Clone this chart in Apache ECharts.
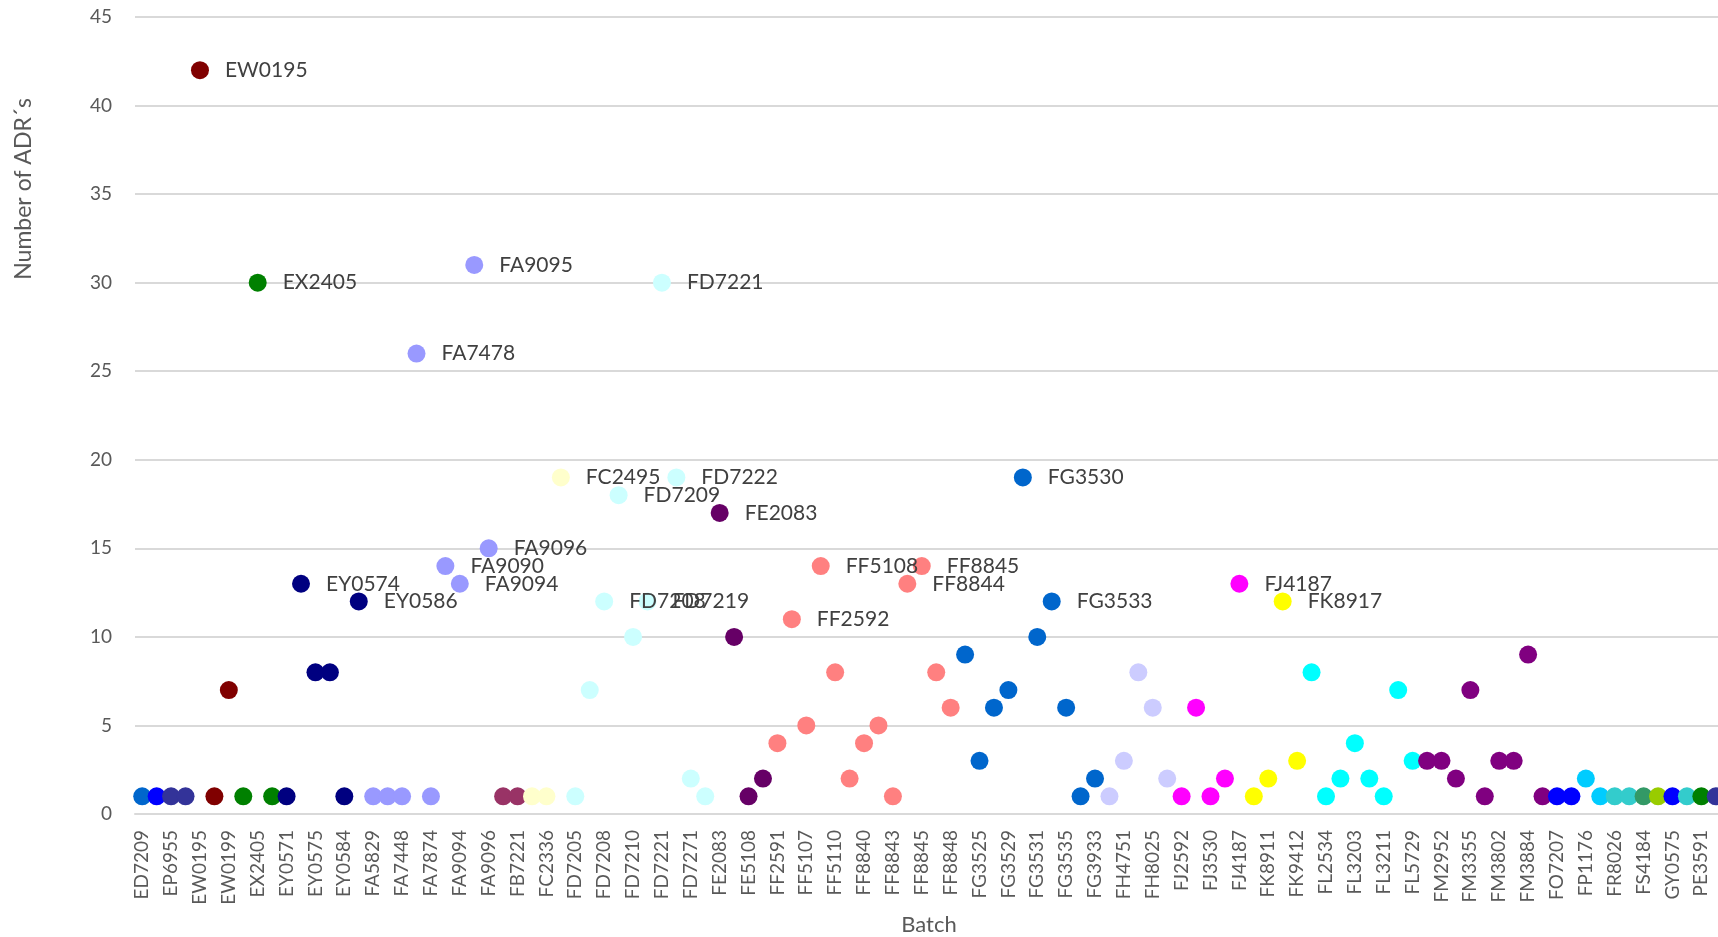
<!DOCTYPE html>
<html>
<head>
<meta charset="utf-8">
<title>ADRs per batch</title>
<script src="https://cdn.jsdelivr.net/npm/echarts@6/dist/echarts.min.js"></script>
<style>
  html, body { margin: 0; padding: 0; background: #fff; }
  #adrChart { width: 1718px; height: 937px; }
</style>
</head>
<body>
<div id="adrChart"></div>
<script>
// batches in axis order (every other one is labelled on the axis)
var batches = [
  'ED7209', 'EN2148', 'EP6955', 'ER1386', 'EW0195', 'EW0196', 'EW0199', 'EX0861', 'EX2405', 'EX3302',
  'EY0571', 'EY0574', 'EY0575', 'EY0580', 'EY0584', 'EY0586', 'FA5829', 'FA6038', 'FA7448', 'FA7478',
  'FA7874', 'FA9090', 'FA9094', 'FA9095', 'FA9096', 'FB6204', 'FB7221', 'FC2335', 'FC2336', 'FC2495',
  'FD7205', 'FD7207', 'FD7208', 'FD7209', 'FD7210', 'FD7219', 'FD7221', 'FD7222', 'FD7271', 'FD7272',
  'FE2083', 'FE2084', 'FE5108', 'FE5109', 'FF2591', 'FF2592', 'FF5107', 'FF5108', 'FF5110', 'FF5111',
  'FF8840', 'FF8841', 'FF8843', 'FF8844', 'FF8845', 'FF8846', 'FF8848', 'FG3524', 'FG3525', 'FG3527',
  'FG3529', 'FG3530', 'FG3531', 'FG3533', 'FG3535', 'FG3536', 'FG3933', 'FH4750', 'FH4751', 'FH8024',
  'FH8025', 'FH8026', 'FJ2592', 'FJ2593', 'FJ3530', 'FJ3531', 'FJ4187', 'FK8910', 'FK8911', 'FK8917',
  'FK9412', 'FL2533', 'FL2534', 'FL2535', 'FL3203', 'FL3204', 'FL3211', 'FL5728', 'FL5729', 'FM2951',
  'FM2952', 'FM2953', 'FM3355', 'FM3356', 'FM3802', 'FM3803', 'FM3884', 'FM3885', 'FO7207', 'FO7208',
  'FP1176', 'FP1177', 'FR8026', 'FR8027', 'FS4184', 'FS4185', 'GY0575', 'GY0576', 'PE3591', 'PE3592'
];

// number of ADRs reported for each batch
var adrCounts = [
  1, 1, 1, 1, 42, 1, 7, 1, 30, 1,
  1, 13, 8, 8, 1, 12, 1, 1, 1, 26,
  1, 14, 13, 31, 15, 1, 1, 1, 1, 19,
  1, 7, 12, 18, 10, 12, 30, 19, 2, 1,
  17, 10, 1, 2, 4, 11, 5, 14, 8, 2,
  4, 5, 1, 13, 14, 8, 6, 9, 3, 6,
  7, 19, 10, 12, 6, 1, 2, 1, 3, 8,
  6, 2, 1, 6, 1, 2, 13, 1, 2, 12,
  3, 8, 1, 2, 4, 2, 1, 7, 3, 3,
  3, 2, 7, 1, 3, 3, 9, 1, 1, 1,
  2, 1, 1, 1, 1, 1, 1, 1, 1, 1
];

// colour group of each batch (index into groupColours)
var batchGroup = [
  0, 1, 2, 2, 3, 3, 3, 4, 4, 4,
  5, 5, 5, 5, 5, 5, 6, 6, 6, 6,
  6, 6, 6, 6, 6, 7, 7, 8, 8, 8,
  9, 9, 9, 9, 9, 9, 9, 9, 9, 9,
  10, 10, 10, 10, 11, 11, 11, 11, 11, 11,
  11, 11, 11, 11, 11, 11, 11, 0, 0, 0,
  0, 0, 0, 0, 0, 0, 0, 12, 12, 12,
  12, 12, 13, 13, 13, 13, 13, 14, 14, 14,
  14, 15, 15, 15, 15, 15, 15, 15, 15, 16,
  16, 16, 16, 16, 16, 16, 16, 16, 1, 1,
  17, 17, 18, 18, 19, 20, 1, 18, 4, 2
];

var groupColours = [
  '#0066CC', '#0000FF', '#333399', '#800000', '#008000', '#000080', '#9999FF',
  '#993366', '#FFFFCC', '#CCFFFF', '#660066', '#FF8080', '#CCCCFF', '#FF00FF',
  '#FFFF00', '#00FFFF', '#800080', '#00CCFF', '#33CCCC', '#339966', '#99CC00'
];

var yTicks = { min: 0, max: 45, interval: 5 };
var labelFrom = 11; // batches with at least this many ADRs get a name label

var fontName = 'Lato, "Open Sans", sans-serif';
var myChart = echarts.init(document.getElementById('adrChart'));

var option = {
  backgroundColor: '#ffffff',
  animation: false,
  textStyle: { fontFamily: fontName },
  grid: {
    left: 135,
    top: 17,
    width: 1588,
    bottom: 123,
    containLabel: false,
    outerBoundsMode: 'none'
  },
  xAxis: {
    type: 'category',
    data: batches,
    boundaryGap: true,
    name: 'Batch',
    nameLocation: 'middle',
    nameGap: 100,
    nameTextStyle: { color: '#595959', fontSize: 22, fontFamily: fontName },
    axisLine: { lineStyle: { color: '#D9D9D9', width: 2 } },
    axisTick: { show: false },
    axisLabel: {
      interval: 1,
      rotate: 90,
      margin: 16,
      color: '#595959',
      fontSize: 19,
      fontFamily: fontName
    },
    splitLine: { show: false }
  },
  yAxis: {
    type: 'value',
    min: yTicks.min,
    max: yTicks.max,
    interval: yTicks.interval,
    axisLine: { show: false },
    axisTick: { show: false },
    axisLabel: { color: '#595959', fontSize: 19, margin: 23, fontFamily: fontName },
    splitLine: { lineStyle: { color: '#D9D9D9', width: 2 } }
  },
  graphic: [{
    type: 'text',
    left: 12,
    top: 98,
    rotation: Math.PI / 2,
    style: {
      text: 'Number of ADR´s',
      fill: '#595959',
      fontSize: 23,
      fontFamily: fontName
    }
  }],
  series: [{
    type: 'scatter',
    symbol: 'circle',
    symbolSize: 18,
    data: adrCounts,
    itemStyle: {
      opacity: 1,
      color: function (p) {
        return groupColours[batchGroup[p.dataIndex]];
      }
    },
    label: {
      show: true,
      position: 'right',
      distance: 16,
      color: '#404040',
      fontSize: 21,
      fontFamily: fontName,
      formatter: function (p) {
        return p.value >= labelFrom ? p.name : '';
      }
    }
  }]
};

myChart.setOption(option);
</script>
</body>
</html>
